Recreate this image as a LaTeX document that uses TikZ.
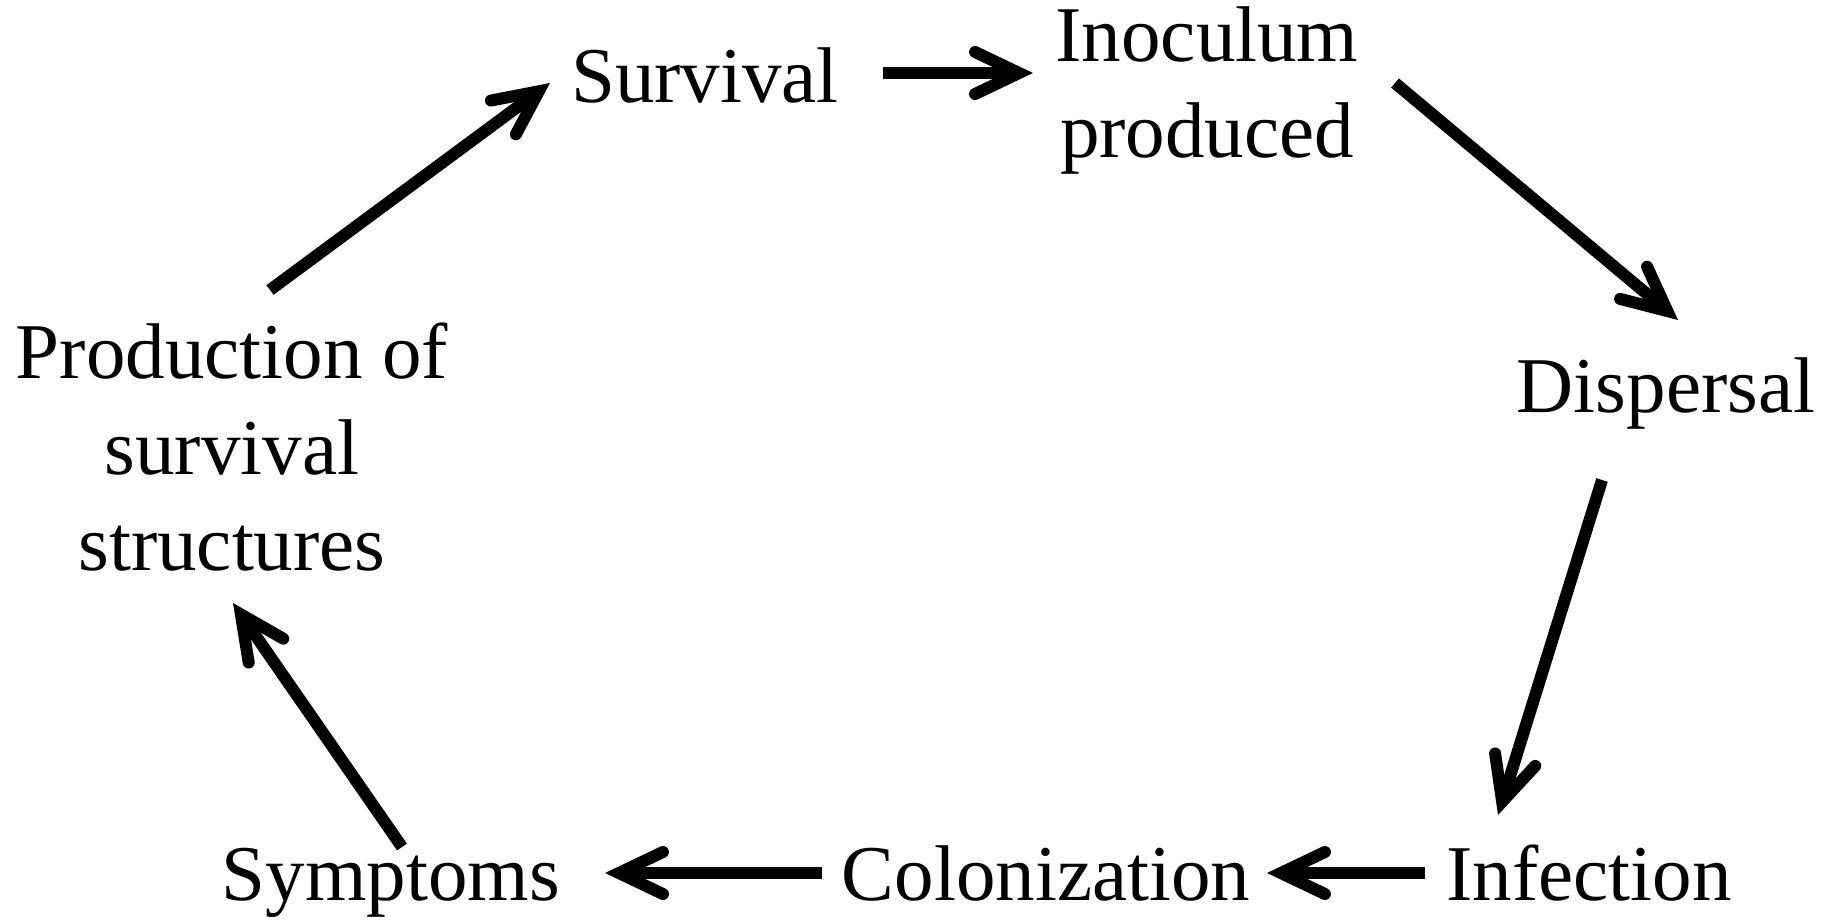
\documentclass[tikz,border=0pt]{standalone}
\usepackage{fontspec}
\setmainfont{Liberation Serif}
\usetikzlibrary{arrows.meta}
\begin{document}
\begin{tikzpicture}[x=0.5pt,y=-0.5pt,
  lbl/.style={font=\fontsize{39.5}{47.5}\selectfont, inner sep=0pt, anchor=base, align=center},
  arr/.style={line width=6pt, line cap=butt,
    -{Straight Barb[length=22pt,width=21pt,line cap=round,line join=miter]}}]
\useasboundingbox (0,0) rectangle (1837,920);
\fill[white] (0,0) rectangle (1837,920);
% labels (anchor = baseline of last line)
\node[lbl] (surv) at (705,103) {Survival};
\node[lbl] (inoc) at (1207,157) {Inoculum\\produced};
\node[lbl] (disp) at (1666,412) {Dispersal};
\node[lbl] (infe) at (1589,900) {Infection};
\node[lbl] (colo) at (1046,900) {Colonization};
\node[lbl] (symp) at (391,900) {Symptoms};
\node[lbl, font=\fontsize{39.5}{48}\selectfont] (prod) at (232,570) {Production of\\survival\\structures};
% arrow end points
\coordinate (a1s) at (270,290);  \coordinate (a1e) at (550,83);
\coordinate (a2s) at (883,73);   \coordinate (a2e) at (1033,73);
\coordinate (a3s) at (1395,83);  \coordinate (a3e) at (1678,320);
\coordinate (a4s) at (1602,480); \coordinate (a4e) at (1498,815);
\coordinate (a5s) at (1425,873); \coordinate (a5e) at (1267,873);
\coordinate (a6s) at (822,873);  \coordinate (a6e) at (605,873);
\coordinate (a7s) at (402,847);  \coordinate (a7e) at (233,603);
\draw[arr] (a1s) -- (a1e);
\draw[arr] (a2s) -- (a2e);
\draw[arr] (a3s) -- (a3e);
\draw[arr] (a4s) -- (a4e);
\draw[arr] (a5s) -- (a5e);
\draw[arr] (a6s) -- (a6e);
\draw[arr] (a7s) -- (a7e);
\end{tikzpicture}
\end{document}
